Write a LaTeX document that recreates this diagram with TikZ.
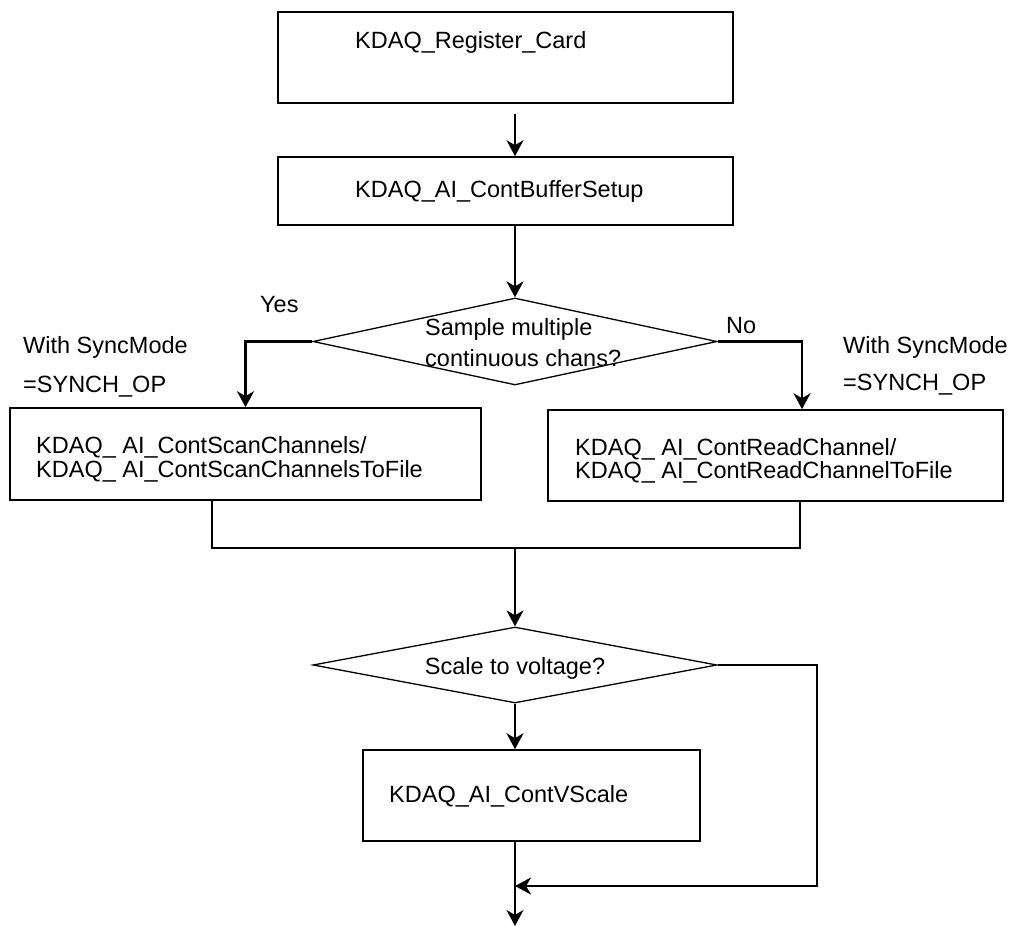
\documentclass[tikz,border=0pt]{standalone}
\usepackage{fontspec}
\setmainfont{Liberation Sans}
\usetikzlibrary{shapes.geometric,arrows.meta}
\begin{document}
\begin{tikzpicture}[x=1pt,y=-1pt,
  font=\fontsize{23.5}{24}\selectfont,
  box/.style={draw, line width=1.6pt, inner sep=0pt},
  dia/.style={draw, diamond, line width=1.3pt, inner sep=0pt, minimum width=404pt},
  lbl/.style={anchor=base west, inner sep=0pt},
  conn/.style={line width=1.6pt},
  arr/.style={line width=1.6pt, -{Stealth[length=16pt,width=17pt,inset=5pt]}},
  thickarr/.style={line width=2.4pt, -{Stealth[length=16pt,width=17pt,inset=5pt]}}
]
\useasboundingbox (0,0) rectangle (1013,926);

% boxes
\node[box, minimum width=455pt, minimum height=91pt] (b1) at (505.5,57.5) {};
\node[box, minimum width=455pt, minimum height=68pt] (b2) at (505.5,191) {};
\node[box, minimum width=471pt, minimum height=92pt] (b3) at (245.5,454) {};
\node[box, minimum width=455pt, minimum height=91pt] (b4) at (775.5,455.5) {};
\node[box, minimum width=337pt, minimum height=91pt] (b5) at (531.5,795.5) {};

% diamonds
\node[dia, minimum height=87pt] (d1) at (515,341.5) {};
\node[dia, minimum height=76pt] (d2) at (515,665) {};

% texts
\node[lbl] (t1) at (355,48) {KDAQ\_Register\_Card};
\node[lbl] (t2) at (355,197) {KDAQ\_AI\_ContBufferSetup};
\node[lbl] (t3a) at (36,453) {KDAQ\_ AI\_ContScanChannels/};
\node[lbl] (t3b) at (36,477) {KDAQ\_ AI\_ContScanChannelsToFile};
\node[lbl] (t4a) at (575,455) {KDAQ\_ AI\_ContReadChannel/};
\node[lbl] (t4b) at (575,478) {KDAQ\_ AI\_ContReadChannelToFile};
\node[lbl] (t5) at (389,802) {KDAQ\_AI\_ContVScale};
\node[lbl] (q1a) at (425,335) {Sample multiple};
\node[lbl] (q1b) at (425,366) {continuous chans?};
\node[anchor=base, inner sep=0pt] (q2) at (515,674) {Scale to voltage?};
\node[lbl] (yes) at (260,312) {Yes};
\node[lbl] (no) at (726,333) {No};
\node[lbl] (wl1) at (23,353) {With SyncMode};
\node[lbl] (wl2) at (23,392) {=SYNCH\_OP};
\node[lbl] (wr1) at (843,353) {With SyncMode};
\node[lbl] (wr2) at (843,390) {=SYNCH\_OP};

% helper coordinates
\coordinate (m) at (515,548);
\coordinate (j) at (515,886);
\coordinate (loopx) at (817,665);
\coordinate (endpt) at (515,926);

% connectors
\draw[arr] ([yshift=-10pt]b1.south -| d1.north) -- (b2.north -| d1.north);
\draw[arr] (b2.south -| d1.north) -- (d1.north);
\draw[thickarr] (d1.west) -| (b3.north);
\draw[thickarr] (d1.east) -| ([xshift=26.5pt]b4.north);
\draw[conn] ([xshift=-33.5pt]b3.south) |- (m) -| ([xshift=24.5pt]b4.south);
\draw[arr] (m) -- (d2.north);
\draw[arr] (d2.south) -- (d2.south |- b5.north);
\draw[arr] (b5.south -| d2.south) -- (endpt);
\draw[line width=2.4pt, -{Stealth[length=16pt,width=17pt,inset=5pt]}] (d2.east) -- (loopx) |- (j);
\end{tikzpicture}
\end{document}
